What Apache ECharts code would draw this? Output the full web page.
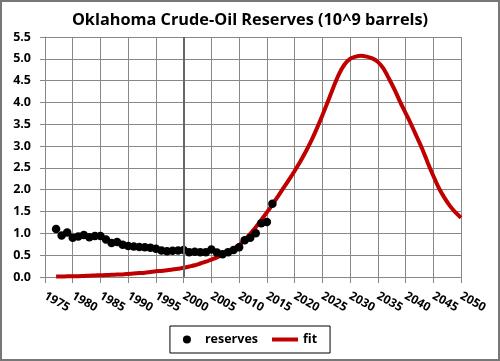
<!DOCTYPE html>
<html><head><meta charset="utf-8">
<script src="https://cdn.jsdelivr.net/npm/echarts@6/dist/echarts.min.js"></script>
<style>html,body{margin:0;padding:0;background:#fff}#c{width:500px;height:361px}</style>
</head><body><div id="c"></div>
<script>
var reserveYears = [1977,1978,1979,1980,1981,1982,1983,1984,1985,1986,1987,1988,1989,1990,1991,1992,1993,1994,1995,1996,1997,1998,1999,2000,2001,2002,2003,2004,2005,2006,2007,2008,2009,2010,2011,2012,2013,2014,2015,2016];
var reserveValues = [1.10,0.95,1.02,0.90,0.93,0.96,0.91,0.94,0.94,0.86,0.78,0.80,0.74,0.71,0.70,0.69,0.68,0.67,0.65,0.61,0.59,0.60,0.61,0.62,0.57,0.58,0.57,0.57,0.63,0.56,0.52,0.57,0.62,0.68,0.84,0.90,1.00,1.23,1.26,1.68];
var fitStartYear = 1977;
var fitValues = [0.01,0.012,0.015,0.018,0.02,0.025,0.03,0.035,0.04,0.045,0.05,0.055,0.06,0.07,0.08,0.09,0.10,0.115,0.13,0.14,0.155,0.17,0.19,0.21,0.24,0.27,0.31,0.35,0.40,0.45,0.51,0.57,0.64,0.73,0.85,0.99,1.14,1.31,1.48,1.66,1.85,2.04,2.23,2.43,2.64,2.87,3.12,3.40,3.70,4.02,4.35,4.65,4.87,5.00,5.05,5.07,5.05,5.01,4.93,4.78,4.55,4.30,4.02,3.76,3.50,3.22,2.94,2.62,2.32,2.04,1.82,1.63,1.48,1.36];
var yTicks = ['0.0','0.5','1.0','1.5','2.0','2.5','3.0','3.5','4.0','4.5','5.0','5.5'];

var reserveData = reserveYears.map(function(y,i){return [y, reserveValues[i]];});
var fitData = fitValues.map(function(v,i){return [fitStartYear+i, v];});
var font = '"Open Sans", "Noto Sans", sans-serif';
var chart = echarts.init(document.getElementById('c'));
chart.setOption({
  animation:false,
  title:{text:'Oklahoma Crude-Oil Reserves (10^9 barrels)', left:'center', top:7,
    textStyle:{fontFamily:font, fontSize:16.3, fontWeight:'bold', color:'#000'}},
  grid:{left:45, right:39, top:37, bottom:84},
  legend:{bottom:8, left:'center', itemGap:14, padding:[7,13,7,13], borderColor:'#000', borderWidth:1,
    textStyle:{fontFamily:font, fontSize:12.5, fontWeight:'bold', color:'#000'},
    data:[{name:'reserves', icon:'circle'},{name:'fit', icon:'path://M0,0h26v4h-26z'}], itemWidth:26, itemHeight:8},
  xAxis:{type:'value', min:1975, max:2050, interval:5,
    axisLine:{show:true, lineStyle:{color:'#888', width:1}},
    axisTick:{show:true, length:6, lineStyle:{color:'#888'}},
    splitLine:{show:true, lineStyle:{color:'#888', width:1}},
    axisLabel:{rotate:-30, fontFamily:font, fontSize:12, fontWeight:'bold', color:'#000', margin:18,
      formatter:function(v){return String(v);}}},
  yAxis:{type:'value', min:0, max:5.5, interval:0.5,
    axisLine:{show:true, lineStyle:{color:'#888', width:1}},
    axisTick:{show:true, length:5, lineStyle:{color:'#888'}},
    splitLine:{show:true, lineStyle:{color:'#888', width:1}},
    axisLabel:{fontFamily:font, fontSize:12.5, fontWeight:'bold', color:'#000', margin:14,
      formatter:function(v){return yTicks[Math.round(v*2)];}}},
  graphic:[{type:'rect', shape:{x:1,y:1,width:498,height:359}, style:{fill:'none', stroke:'#777', lineWidth:2}, silent:true}],
  series:[
    {name:'fit', type:'line', data:fitData, symbol:'none', smooth:0.3, z:2,
      lineStyle:{color:'#c00000', width:4}, itemStyle:{color:'#c00000'},
      markLine:{silent:true, symbol:'none', label:{show:false}, lineStyle:{color:'#666', width:2, type:'solid'}, data:[{xAxis:2000}]}},
    {name:'reserves', type:'scatter', data:reserveData, symbol:'circle', symbolSize:8.5, z:3,
      itemStyle:{color:'#000', opacity:1}}
  ]
});
</script></body></html>
